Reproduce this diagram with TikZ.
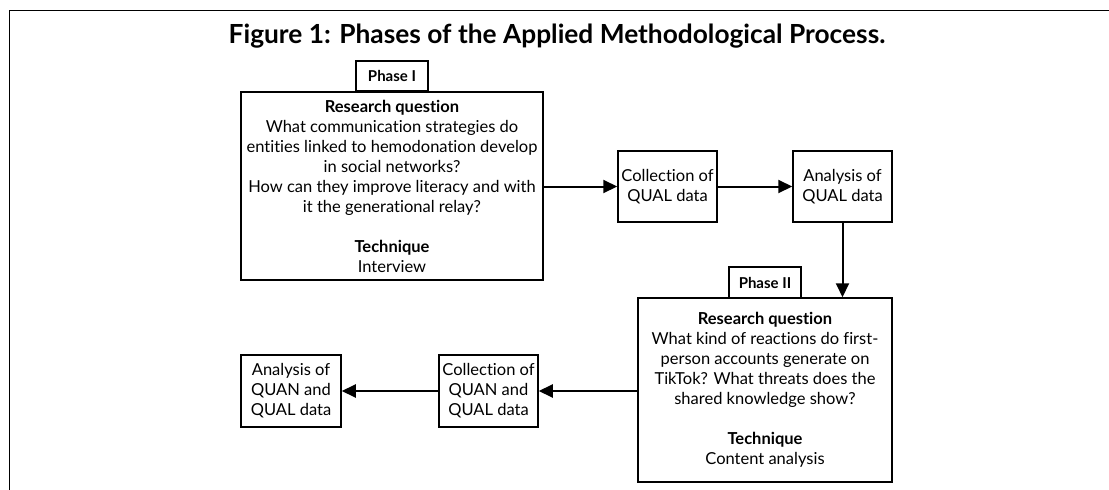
\documentclass[tikz,border=0pt]{standalone}
\usepackage{fontspec}
\setmainfont{Lato}[Ligatures=NoCommon]
\usetikzlibrary{arrows.meta}
\begin{document}
\begin{tikzpicture}[x=1pt,y=-1pt,
  box/.style={draw, line width=1.5pt, align=center, inner sep=0pt, font=\fontsize{16.5}{20}\selectfont},
  lab/.style={draw, line width=1.5pt, inner sep=0pt, font=\bfseries\fontsize{15}{18}\selectfont},
  arr/.style={line width=2pt, -{Triangle[length=14pt,width=13pt]}}]
\useasboundingbox (0,0) rectangle (1109,490);
\draw[line width=1.5pt] (9.5,490) -- (9.5,10.5) -- (1109,10.5);
\node[font=\bfseries\fontsize{26.3}{30}\selectfont] (title) at (557,36) {Figure 1: Phases of the Applied Methodological Process.};
% Phase I
\node[box, minimum width=302pt, minimum height=188pt] (p1) at (392,186) {\textbf{Research question}\\What communication strategies do\\entities linked to hemodonation develop\\in social networks?\\How can they improve literacy and with\\it the generational relay?\\[20pt]\textbf{Technique}\\Interview};
\node[lab, minimum width=72pt, minimum height=30pt] (l1) at (392,76) {Phase I};
\node[box, minimum width=99pt, minimum height=71pt] (c1) at (667.5,186.5) {Collection of\\QUAL data};
\node[box, minimum width=99pt, minimum height=71pt] (a1) at (842.5,186.5) {Analysis of\\QUAL data};
% Phase II
\node[box, minimum width=254pt, minimum height=184pt] (p2) at (765,390) {\textbf{Research question}\\What kind of reactions do first-\\person accounts generate on\\TikTok? What threats does the\\shared knowledge show?\\[20pt]\textbf{Technique}\\Content analysis};
\node[lab, minimum width=72pt, minimum height=31pt] (l2) at (765,282.5) {Phase II};
\node[box, minimum width=99pt, minimum height=72pt] (c2) at (488.5,391) {Collection of\\QUAN and\\QUAL data};
\node[box, minimum width=100pt, minimum height=72pt] (a2) at (291,391) {Analysis of\\QUAN and\\QUAL data};
% arrows
\draw[arr] (c1.west -| p1.east) -- (c1.west);
\draw[arr] (c1) -- (a1);
\draw[arr] (a1.south) -- (a1.south |- p2.north);
\draw[arr] (c2.east -| p2.west) -- (c2.east);
\draw[arr] (c2) -- (a2);
\end{tikzpicture}
\end{document}
